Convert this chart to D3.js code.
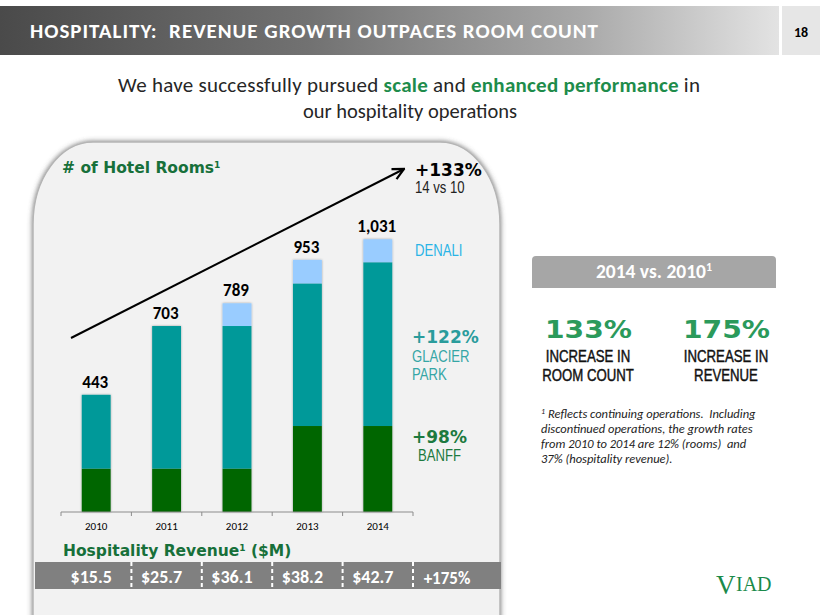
<!DOCTYPE html>
<html>
<head>
<meta charset="utf-8">
<script src="https://cdn.jsdelivr.net/npm/d3@7"></script>
<style>
  body { margin: 0; background: #fff; }
  svg { display: block; font-family: Carlito, Calibri, Lato, sans-serif; }
  svg text { white-space: pre; }
  .verd { font-family: Verdana, "DejaVu Sans", sans-serif; font-weight: bold; }
  .narrow { font-family: "Liberation Sans", Arial, sans-serif; }
</style>
</head>
<body>
<svg id="chart" width="820" height="615"></svg>
<script>
// hotel rooms by property (stacked)
const years = ["2010", "2011", "2012", "2013", "2014"];
const banff = [164, 164, 164, 325, 325];
const glacier = [279, 539, 539, 539, 619];
const denali = [0, 0, 86, 89, 87];
// hospitality revenue strip ($M)
const revenue = ["$15.5", "$25.7", "$36.1", "$38.2", "$42.7"];
const revenueGrowth = "+175%";
const footnote = [
  "Reflects continuing operations.  Including",
  "discontinued operations, the growth rates",
  "from 2010 to 2014 are 12% (rooms)  and",
  "37% (hospitality revenue)."
];

const green = "#17703a";
const svg = d3.select("#chart");
const defs = svg.append("defs");

// arial-narrow look: squeeze Liberation Sans horizontally
function narrow(parent, x, y, txt, size, fill, anchor, sx) {
  return parent.append("text").attr("class", "narrow")
    .attr("transform", `translate(${x},${y}) scale(${sx || 0.82},1)`)
    .attr("text-anchor", anchor || "start")
    .attr("fill", fill).style("font-size", size + "px")
    .text(txt);
}

// header gradient
const hg = defs.append("linearGradient").attr("id", "hdr");
hg.append("stop").attr("offset", "0%").attr("stop-color", "#4a4a4a");
hg.append("stop").attr("offset", "40%").attr("stop-color", "#727272");
hg.append("stop").attr("offset", "75%").attr("stop-color", "#a9a9a9");
hg.append("stop").attr("offset", "100%").attr("stop-color", "#e3e3e3");

const sh = defs.append("filter").attr("id", "panelShadow")
  .attr("x", "-5%").attr("y", "-5%").attr("width", "110%").attr("height", "110%");
sh.append("feDropShadow").attr("dx", 0).attr("dy", 0).attr("stdDeviation", 2.5)
  .attr("flood-color", "#555").attr("flood-opacity", 0.8);

const bs = defs.append("filter").attr("id", "barShadow")
  .attr("x", "-20%").attr("y", "-5%").attr("width", "140%").attr("height", "110%");
bs.append("feDropShadow").attr("dx", 0).attr("dy", 0).attr("stdDeviation", 1.2)
  .attr("flood-color", "#000").attr("flood-opacity", 0.35);

// header
svg.append("rect").attr("x", 0).attr("y", 6).attr("width", 779).attr("height", 49).attr("fill", "url(#hdr)");
svg.append("rect").attr("x", 782).attr("y", 6).attr("width", 38).attr("height", 49).attr("fill", "#e6e6e6");
svg.append("text").attr("x", 30).attr("y", 38).attr("fill", "#fff")
  .style("font-size", "21px").style("font-weight", "bold")
  .attr("textLength", 568).attr("lengthAdjust", "spacing")
  .text("HOSPITALITY:  REVENUE GROWTH OUTPACES ROOM COUNT");
svg.append("text").attr("x", 801).attr("y", 37).attr("text-anchor", "middle")
  .style("font-size", "14px").style("font-weight", "bold").text("18");

// subtitle
const sub = svg.append("text").attr("x", 118).attr("y", 92)
  .style("font-size", "21px").attr("fill", "#262626")
  .attr("textLength", 582).attr("lengthAdjust", "spacing");
sub.append("tspan").text("We have successfully pursued ");
sub.append("tspan").attr("fill", "#1e8c4b").style("font-weight", "bold").text("scale");
sub.append("tspan").text(" and ");
sub.append("tspan").attr("fill", "#1e8c4b").style("font-weight", "bold").text("enhanced performance");
sub.append("tspan").text(" in");
svg.append("text").attr("x", 410).attr("y", 118).attr("text-anchor", "middle")
  .style("font-size", "20.5px").attr("fill", "#262626").text("our hospitality operations");

// rounded panel
const L = 33, R = 500, T = 142, rx = 60, ry = 82;
svg.append("path")
  .attr("d", `M${L},640 L${L},${T + ry} A${rx},${ry} 0 0 1 ${L + rx},${T} L${R - rx},${T} A${rx},${ry} 0 0 1 ${R},${T + ry} L${R},640 Z`)
  .attr("fill", "#f2f2f2").attr("stroke", "#b5b5b5").attr("stroke-width", 1.5)
  .attr("filter", "url(#panelShadow)");

// scales
const x = d3.scaleBand().domain(years).range([61, 413]).paddingInner(0.59).paddingOuter(0.295);
const y = d3.scaleLinear().domain([0, 1100]).range([512, 221]);

const rows = years.map((yr, i) => ({ year: yr, banff: banff[i], glacier: glacier[i], denali: denali[i] }));
const keys = ["banff", "glacier", "denali"];
const colors = { banff: "#006600", glacier: "#009999", denali: "#99ccff" };
const series = d3.stack().keys(keys)(rows);

const bars = svg.append("g").attr("filter", "url(#barShadow)");
bars.selectAll("g").data(series).join("g")
  .attr("fill", d => colors[d.key])
  .selectAll("rect").data(d => d.filter(s => s[1] > s[0])).join("rect")
  .attr("x", d => x(d.data.year))
  .attr("width", x.bandwidth())
  .attr("y", d => y(d[1]))
  .attr("height", d => y(d[0]) - y(d[1]));

// totals above bars
const fmt = d3.format(",");
svg.append("g").selectAll("text").data(rows).join("text")
  .attr("x", d => x(d.year) + x.bandwidth() / 2 - 1)
  .attr("y", d => y(d.banff + d.glacier + d.denali) - 7)
  .attr("text-anchor", "middle")
  .style("font-size", "17px").style("font-weight", "bold")
  .text(d => fmt(d.banff + d.glacier + d.denali));

// x axis: baseline with ticks at band edges
const [x0, x1] = x.range();
const edges = d3.range(years.length + 1).map(i => x0 + i * x.step());
const ax = svg.append("g").attr("stroke", "#8c8c8c");
ax.append("line").attr("x1", x0).attr("x2", x1).attr("y1", y(0)).attr("y2", y(0));
ax.selectAll("line.tk").data(edges).join("line").attr("class", "tk")
  .attr("x1", d => d).attr("x2", d => d).attr("y1", y(0)).attr("y2", y(0) + 4);
svg.append("g").selectAll("text").data(years).join("text")
  .attr("x", d => x(d) + x.bandwidth() / 2)
  .attr("y", y(0) + 18)
  .attr("text-anchor", "middle").style("font-size", "11px")
  .text(d => d);

// growth arrow
defs.append("marker").attr("id", "arr").attr("viewBox", "0 0 10 10")
  .attr("refX", 9).attr("refY", 5).attr("markerWidth", 7).attr("markerHeight", 7)
  .attr("orient", "auto")
  .append("path").attr("d", "M1,1 L9,5 L1,9").attr("fill", "none").attr("stroke", "#000").attr("stroke-width", 1.6);
svg.append("line").attr("x1", 71).attr("y1", 338).attr("x2", 404).attr("y2", 169)
  .attr("stroke", "#000").attr("stroke-width", 2).attr("marker-end", "url(#arr)");

// panel labels
const hr = svg.append("text").attr("class", "verd").attr("x", 62).attr("y", 173)
  .attr("fill", green).style("font-size", "15.5px").text("# of Hotel Rooms");
hr.append("tspan").attr("dy", -5).style("font-size", "9px").text("1");

svg.append("text").attr("class", "verd").attr("x", 415).attr("y", 176)
  .style("font-size", "17px").text("+133%");
narrow(svg, 415, 193, "14 vs 10", 16, "#222");
narrow(svg, 415, 256, "DENALI", 16, "#2ab4e6");

svg.append("text").attr("class", "verd").attr("x", 412).attr("y", 343)
  .attr("fill", "#2a9c9c").style("font-size", "17px").text("+122%");
narrow(svg, 412, 362, "GLACIER", 16, "#35a6a6");
narrow(svg, 412, 380, "PARK", 16, "#35a6a6");

svg.append("text").attr("class", "verd").attr("x", 412).attr("y", 443)
  .attr("fill", "#1d7a3f").style("font-size", "17px").text("+98%");
narrow(svg, 418, 461, "BANFF", 16, "#1d7a3f");

const rv = svg.append("text").attr("class", "verd").attr("x", 63).attr("y", 556)
  .attr("fill", green).style("font-size", "15.5px").text("Hospitality Revenue");
rv.append("tspan").attr("dy", -5).style("font-size", "9px").text("1");
rv.append("tspan").attr("dy", 5).text(" ($M)");

// revenue strip
svg.append("rect").attr("x", 35).attr("y", 562).attr("width", 466).attr("height", 27).attr("fill", "#808080");
svg.append("g").selectAll("line").data(edges.slice(1)).join("line")
  .attr("x1", d => d).attr("x2", d => d).attr("y1", 562).attr("y2", 589)
  .attr("stroke", "#fff").attr("stroke-width", 2).attr("stroke-dasharray", "4,3");
svg.append("g").selectAll("text").data(revenue).join("text")
  .attr("x", (d, i) => x(years[i]) + x.bandwidth() / 2 - 5)
  .attr("y", 583).attr("text-anchor", "middle")
  .attr("fill", "#fff").style("font-size", "18px").style("font-weight", "bold")
  .text(d => d);
svg.append("text").attr("x", (x1 + 481) / 2).attr("y", 584).attr("text-anchor", "middle")
  .attr("fill", "#fff").style("font-size", "17px").style("font-weight", "600")
  .text(revenueGrowth);

// right side summary
svg.append("path")
  .attr("d", "M532,288 L532,260 Q532,256 536,256 L772,256 Q776,256 776,260 L776,288 Z")
  .attr("fill", "#a6a6a6");
const bx = svg.append("text").attr("x", 654).attr("y", 278).attr("text-anchor", "middle")
  .attr("fill", "#fff").style("font-size", "19.5px").style("font-weight", "bold").text("2014 vs. 2010");
bx.append("tspan").attr("dy", -7).style("font-size", "12px").text("1");

const stats = [
  { cx: 588, big: "133%", lines: ["INCREASE IN", "ROOM COUNT"] },
  { cx: 726, big: "175%", lines: ["INCREASE IN", "REVENUE"] }
];
stats.forEach(d => {
  svg.append("text").attr("class", "verd").attr("x", d.cx - 43).attr("y", 338)
    .attr("fill", "#2b9a5b").style("font-size", "24px")
    .attr("textLength", 87).attr("lengthAdjust", "spacingAndGlyphs")
    .text(d.big);
  d.lines.forEach((t, i) => narrow(svg, d.cx, 362 + i * 19, t, 16.5, "#111", "middle", 0.8)
    .attr("stroke", "#111").attr("stroke-width", 0.45));
});

const fn = svg.append("g").style("font-style", "italic").style("font-size", "12.5px").attr("fill", "#222");
fn.selectAll("text").data(footnote).join("text")
  .attr("x", 541).attr("y", (d, i) => 418 + i * 15)
  .each(function (d, i) {
    const t = d3.select(this);
    if (i === 0) {
      t.append("tspan").attr("dy", -4).style("font-size", "8px").text("1");
      t.append("tspan").attr("dy", 4).text(" " + d);
    } else t.text(d);
  });

// logo
svg.append("text").attr("x", 716).attr("y", 594)
  .style("font-family", "'Liberation Serif', 'DejaVu Serif', serif").attr("fill", "#1a8a4a")
  .style("font-size", "27px").text("V");
svg.append("text").attr("x", 736).attr("y", 591)
  .style("font-family", "'Liberation Serif', 'DejaVu Serif', serif").attr("fill", "#1a8a4a")
  .style("font-size", "20px").text("IAD");
</script>
</body>
</html>
